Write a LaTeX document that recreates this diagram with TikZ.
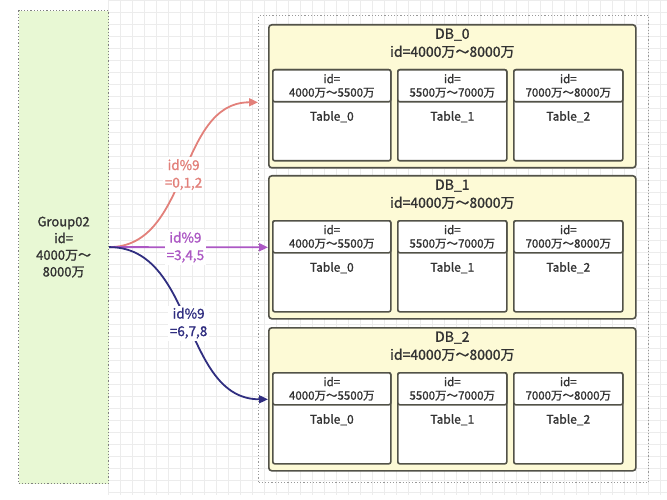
\documentclass[tikz,border=0pt]{standalone}
\usepackage{fontspec}
\setmainfont[FakeBold=1.2]{Noto Sans CJK SC}
\usetikzlibrary{positioning,arrows.meta}
\definecolor{GroupGreen}{RGB}{232,248,212}
\definecolor{DBYellow}{RGB}{253,250,214}
\definecolor{EdgeGray}{RGB}{82,82,72}
\definecolor{TextGray}{RGB}{50,50,50}
\definecolor{RouteRed}{RGB}{226,128,122}
\definecolor{RouteViolet}{RGB}{172,88,196}
\definecolor{RouteNavy}{RGB}{48,46,128}
\definecolor{GridGray}{RGB}{236,236,236}
\tikzset{
	group/.style={draw=gray,dotted,line width=1.2pt,fill=GroupGreen,anchor=north west,
		minimum width=90pt,minimum height=473pt,align=center,text=TextGray,font=\fontsize{13}{16.7}\selectfont},
	shards/.style={draw=gray!80,dotted,line width=1.2pt,anchor=north west,minimum width=390pt,minimum height=467pt},
	dbbox/.style={draw=EdgeGray,line width=1.6pt,rounded corners=3pt,fill=DBYellow,anchor=north west,
		minimum width=367pt,minimum height=143pt},
	dbtitle/.style={align=center,text=TextGray,font=\fontsize{14}{18}\selectfont,anchor=north},
	tablebox/.style={draw=EdgeGray,line width=1.6pt,rounded corners=2pt,fill=white,anchor=north west,
		minimum width=#1,minimum height=91pt},
	tablehead/.style={draw=EdgeGray,line width=1.6pt,rounded corners=2pt,fill=white,anchor=north west,
		minimum width=#1,minimum height=32pt,inner sep=1pt,align=center,text=TextGray,font=\fontsize{11.5}{13.5}\selectfont},
	tname/.style={text=TextGray,font=\fontsize{12}{14}\selectfont},
	route/.style={line width=1.8pt,-{Triangle[length=9pt,width=8pt]}},
	rlabel/.style={fill=white,align=center,inner sep=2pt,font=\fontsize{13.5}{17.5}\selectfont},
}
\begin{document}
\begin{tikzpicture}[x=1pt,y=-1pt]
	\useasboundingbox (0,0) rectangle (667,500);
	\draw[GridGray,line width=0.5pt,step=12pt] (108,0) grid (667,495);
	\node[group] (grp) at (18,10) {Group02\\id=\\4000万～\\8000万};
	\node[shards] (shards) at (258,15) {};
	\node[dbbox] (db0) at (268,24) {};
	\node[dbtitle,below=1pt of db0.north] (db0t) {DB\_0\\id=4000万～8000万};
	\node[tablebox=118pt] (t00) at (272,69) {};
	\node[tablebox=109pt] (t01) at (397,69) {};
	\node[tablebox=109pt] (t02) at (513,69) {};
	\node[tablehead=118pt] (h00) at (t00.north west) {id=\\4000万～5500万};
	\node[tablehead=109pt] (h01) at (t01.north west) {id=\\5500万～7000万};
	\node[tablehead=109pt] (h02) at (t02.north west) {id=\\7000万～8000万};
	\node[tname,below=5pt of h00] (n00) {Table\_0};
	\node[tname,below=5pt of h01] (n01) {Table\_1};
	\node[tname,below=5pt of h02] (n02) {Table\_2};
	\node[dbbox] (db1) at (268,175) {};
	\node[dbtitle,below=1pt of db1.north] (db1t) {DB\_1\\id=4000万～8000万};
	\node[tablebox=118pt] (t10) at (272,220) {};
	\node[tablebox=109pt] (t11) at (397,220) {};
	\node[tablebox=109pt] (t12) at (513,220) {};
	\node[tablehead=118pt] (h10) at (t10.north west) {id=\\4000万～5500万};
	\node[tablehead=109pt] (h11) at (t11.north west) {id=\\5500万～7000万};
	\node[tablehead=109pt] (h12) at (t12.north west) {id=\\7000万～8000万};
	\node[tname,below=5pt of h10] (n10) {Table\_0};
	\node[tname,below=5pt of h11] (n11) {Table\_1};
	\node[tname,below=5pt of h12] (n12) {Table\_2};
	\node[dbbox] (db2) at (268,327) {};
	\node[dbtitle,below=1pt of db2.north] (db2t) {DB\_2\\id=4000万～8000万};
	\node[tablebox=118pt] (t20) at (272,372) {};
	\node[tablebox=109pt] (t21) at (397,372) {};
	\node[tablebox=109pt] (t22) at (513,372) {};
	\node[tablehead=118pt] (h20) at (t20.north west) {id=\\4000万～5500万};
	\node[tablehead=109pt] (h21) at (t21.north west) {id=\\5500万～7000万};
	\node[tablehead=109pt] (h22) at (t22.north west) {id=\\7000万～8000万};
	\node[tname,below=5pt of h20] (n20) {Table\_0};
	\node[tname,below=5pt of h21] (n21) {Table\_1};
	\node[tname,below=5pt of h22] (n22) {Table\_2};
	\draw[route,RouteRed] (grp.east) to[out=0,in=180] node[rlabel] (l0) {id\%9\\=0,1,2} ([xshift=-10pt,yshift=-6pt]db0.west);
	\draw[route,RouteViolet] (grp.east) -- node[rlabel,pos=0.48] (l1) {id\%9\\=3,4,5} (db1.west);
	\draw[route,RouteNavy] (grp.east) to[out=0,in=180] node[rlabel] (l2) {id\%9\\=6,7,8} (db2.west);
\end{tikzpicture}
\end{document}
